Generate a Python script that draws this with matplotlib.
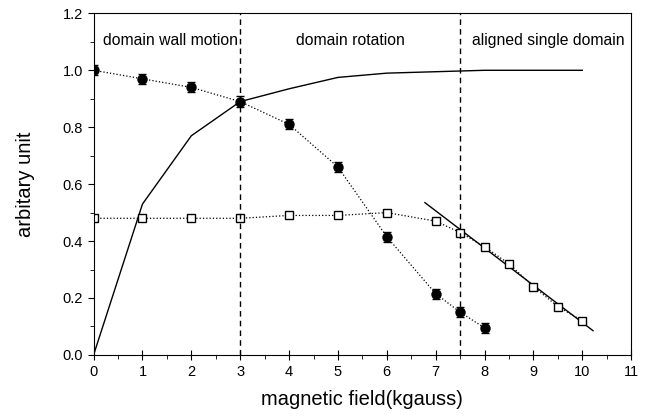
import numpy as np
import matplotlib.pyplot as plt
from matplotlib.ticker import MultipleLocator

plt.rcParams['font.family'] = ['Liberation Sans', 'DejaVu Sans']

# circulos llenos con barras de error
x_circ = [0, 1, 2, 3, 4, 5, 6, 7, 7.5, 8]
y_circ = [1.0, 0.97, 0.94, 0.89, 0.81, 0.66, 0.415, 0.215, 0.15, 0.095]
err_circ = [0.018, 0.018, 0.018, 0.018, 0.018, 0.018, 0.018, 0.018, 0.018, 0.018]

# cuadrados abiertos
x_sq = [0, 1, 2, 3, 4, 5, 6, 7, 7.5, 8, 8.5, 9, 9.5, 10]
y_sq = [0.48, 0.48, 0.48, 0.48, 0.49, 0.49, 0.50, 0.47, 0.43, 0.38, 0.32, 0.24, 0.17, 0.12]

# curva continua
x_curva = [0, 1, 2, 3, 4, 5, 6, 7, 8, 9, 10]
y_curva = [0.0, 0.53, 0.77, 0.89, 0.935, 0.975, 0.99, 0.995, 1.0, 1.0, 1.0]

# recta de ajuste
x_recta = [6.78, 10.22]
y_recta = [0.535, 0.085]

# limites de regiones
x_limites = [3, 7.5]
etiquetas = ["domain wall motion", "domain rotation", "aligned single domain"]
x_etiquetas = [0.2, 5.25, 7.75]
ha_etiquetas = ["left", "center", "left"]

fig = plt.figure(figsize=(6.5, 4.18), dpi=100)
ax = fig.add_axes([0.144, 0.151, 0.827, 0.817])

ax.plot(x_curva, y_curva, color="black", linewidth=1)
ax.plot(x_recta, y_recta, color="black", linewidth=1)
ax.plot(x_sq, y_sq, linestyle=":", color="black", linewidth=0.9,
        marker="s", markersize=6, markerfacecolor="white", markeredgecolor="black",
        markeredgewidth=1)
ax.errorbar(x_circ, y_circ, yerr=err_circ, linestyle=":", color="black", linewidth=0.9,
            marker="o", markersize=6.5, markerfacecolor="black", capsize=3, elinewidth=1)

for xl in x_limites:
    ax.axvline(xl, color="black", linestyle=(0, (4, 3)), linewidth=1)

for txt, xt, ha in zip(etiquetas, x_etiquetas, ha_etiquetas):
    ax.text(xt, 1.105, txt, ha=ha, va="center", fontsize=11.3)

ax.set_xlim(0, 11)
ax.set_ylim(0, 1.2)
ax.xaxis.set_major_locator(MultipleLocator(1))
ax.xaxis.set_minor_locator(MultipleLocator(0.5))
ax.yaxis.set_major_locator(MultipleLocator(0.2))
ax.yaxis.set_minor_locator(MultipleLocator(0.1))
ax.yaxis.set_major_formatter(plt.FuncFormatter(lambda v, p: f"{v:.1f}"))
ax.tick_params(axis="x", which="major", direction="inout", length=7, labelsize=10.5)
ax.tick_params(axis="x", which="minor", direction="out", length=3)
ax.tick_params(axis="y", which="major", direction="out", length=4, labelsize=10.5)
ax.tick_params(axis="y", which="minor", direction="out", length=3)

ax.set_xlabel("magnetic field(kgauss)", fontsize=14.5, labelpad=8)
ax.set_ylabel("arbitary unit", fontsize=14.5, labelpad=20)

fig.savefig("out.png", dpi=100)
